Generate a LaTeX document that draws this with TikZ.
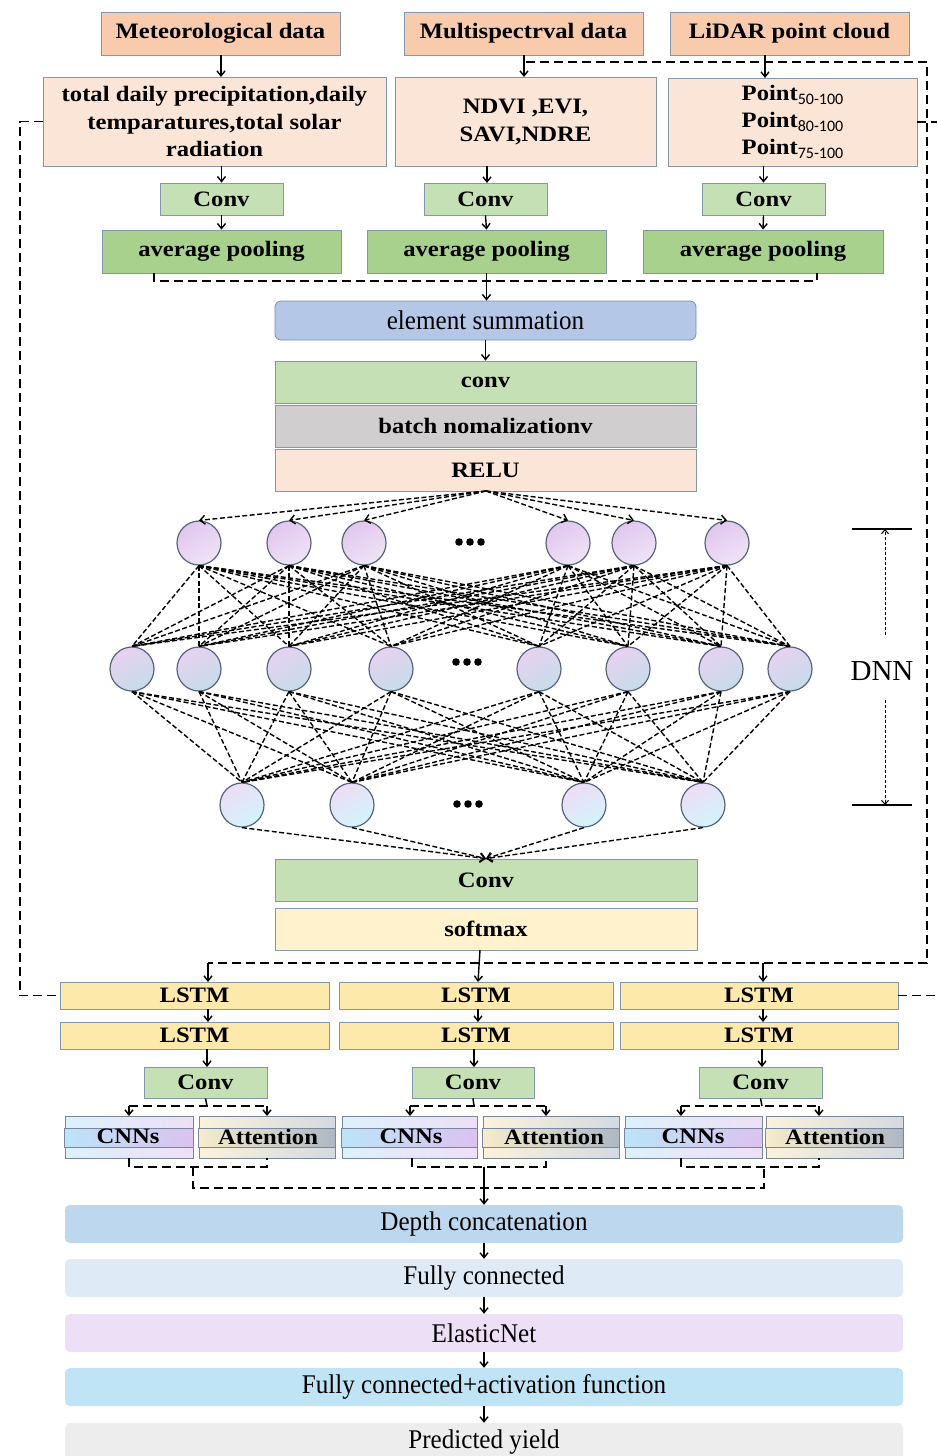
\documentclass[tikz,border=0pt]{standalone}
\usepackage{fontspec}
\setmainfont{Liberation Serif}
\newfontfamily\wfont[FakeStretch=1.12]{Liberation Serif}
\newfontfamily\condfont[FakeStretch=0.93]{Liberation Serif}
\newfontfamily\carl{Carlito}
\usetikzlibrary{arrows.meta,calc}
\definecolor{bcol}{HTML}{8497B0}
\definecolor{hdr}{HTML}{F8CBAD}
\definecolor{lpeach}{HTML}{FBE5D6}
\definecolor{lgreen}{HTML}{C5E0B4}
\definecolor{mgreen}{HTML}{A9D18E}
\definecolor{esum}{HTML}{B4C7E7}
\definecolor{esumb}{HTML}{6E8FC7}
\definecolor{bnorm}{HTML}{D0CECE}
\definecolor{smax}{HTML}{FFF2CC}
\definecolor{lstm}{HTML}{FDE9A9}
\definecolor{dconc}{HTML}{BDD7EE}
\definecolor{fcon}{HTML}{DEEBF7}
\definecolor{enet}{HTML}{EDDFF6}
\definecolor{fact}{HTML}{BEE4F5}
\definecolor{pyld}{HTML}{EDEDED}
\definecolor{nbord}{HTML}{55667C}
\definecolor{pA}{HTML}{E1C6EF}
\definecolor{pB}{HTML}{EEE4F6}
\definecolor{qB}{HTML}{C6DCE8}
\definecolor{rB}{HTML}{D2F4FB}
\definecolor{cnA}{HTML}{DDF1FB}
\definecolor{cnB}{HTML}{EEDFF7}
\definecolor{cnC}{HTML}{BCE4F7}
\definecolor{cnD}{HTML}{DBC2EF}
\definecolor{atA}{HTML}{FBF2DA}
\definecolor{atB}{HTML}{D3DAE1}
\definecolor{atC}{HTML}{F7ECCB}
\definecolor{atD}{HTML}{ADB8C4}
\begin{document}
\begin{tikzpicture}[x=1pt,y=-1pt,
  box/.style={draw=bcol, line width=0.8pt, inner sep=0pt, align=center,
    font=\wfont\bfseries\fontsize{22}{24}\selectfont},
  flat/.style={rounded corners=5pt, inner sep=0pt, align=center,
    minimum width=838pt, minimum height=38pt,
    font=\condfont\fontsize{27}{29}\selectfont},
  arr/.style={-{Straight Barb[length=5pt,width=8pt]}, line width=1.4pt},
  dsh/.style={dash pattern=on 9pt off 5pt, line width=1.5pt},
  dsha/.style={dsh, -{Straight Barb[length=5pt,width=8pt]}},
  nl/.style={dash pattern=on 5pt off 2.5pt, line width=1.4pt},
  nla/.style={nl, -{Straight Barb[length=5pt,width=9pt]}},
  neur/.style={circle, draw=nbord, line width=1.2pt, minimum size=44pt, inner sep=0pt},
  n1/.style={neur, top color=pA, bottom color=pB, shading angle=30},
  n2/.style={neur, top color=pA!80!white, bottom color=qB, shading angle=30},
  n3/.style={neur, top color=pA!60!white, bottom color=rB, shading angle=30},
  sbox/.style={draw=bcol!90!black, line width=0.8pt, minimum height=42pt, inner sep=0pt},
  stxt/.style={font=\wfont\bfseries\fontsize{22}{24}\selectfont, inner sep=0pt},
  sub/.style={}
]
\useasboundingbox (0,0) rectangle (937,1456);
\newcommand{\sbs}[1]{\raisebox{-4pt}{\carl\mdseries\fontsize{16}{16}\selectfont #1}}

% --- top inputs
\node[box, fill=hdr, minimum width=239pt, minimum height=43pt] (md) at (220.5,33.5) {Meteorological data};
\node[box, fill=hdr, minimum width=239pt, minimum height=43pt] (ms) at (523.5,33.5) {Multispectrval data};
\node[box, fill=hdr, minimum width=239pt, minimum height=43pt] (ld) at (789.5,33.5) {LiDAR point cloud};

\node[box, fill=lpeach, minimum width=343pt, minimum height=89pt, font=\wfont\bfseries\fontsize{22}{27.5}\selectfont] (tb1) at (214.5,121.5) {total daily precipitation,daily\\temparatures,total solar\\radiation};
\node[box, fill=lpeach, minimum width=261pt, minimum height=89pt, font=\wfont\bfseries\fontsize{22}{28}\selectfont] (tb2) at (525.5,121.5) {NDVI ,EVI,\\SAVI,NDRE};
\node[box, fill=lpeach, minimum width=249pt, minimum height=88pt, font=\wfont\bfseries\fontsize{22}{27}\selectfont] (tb3) at (792.5,122) {Point\sbs{50-100}\\Point\sbs{80-100}\\Point\sbs{75-100}};

\node[box, fill=lgreen, minimum width=123pt, minimum height=32pt] (cv1) at (221.5,199) {Conv};
\node[box, fill=lgreen, minimum width=123pt, minimum height=32pt] (cv2) at (485.5,199) {Conv};
\node[box, fill=lgreen, minimum width=123pt, minimum height=32pt] (cv3) at (763.5,199) {Conv};

\node[box, fill=mgreen, minimum width=239pt, minimum height=43pt] (ap1) at (221.5,251.5) {average pooling};
\node[box, fill=mgreen, minimum width=239pt, minimum height=43pt] (ap2) at (486.5,251.5) {average pooling};
\node[box, fill=mgreen, minimum width=240pt, minimum height=43pt] (ap3) at (763,251.5) {average pooling};

\draw[arr] (md.south -| 221,0) -- (221,77);
\draw[arr] (524,55) -- (524,77);
\draw[arr] (765,55) -- (765,78);
\draw[arr] (cv1.north |- tb1.south) -- (cv1.north);
\draw[arr] (487,166) -- (487,183);
\draw[arr] (cv3.north |- tb3.south) -- (cv3.north);
\draw[arr] (cv1.south) -- (ap1.north);
\draw[arr] (cv2.south) -- (ap2.north);
\draw[arr] (cv3.south) -- (ap3.north);

% --- fusion
\node[box, fill=esum, draw=esumb, rounded corners=6pt, minimum width=421pt, minimum height=39pt, font=\condfont\fontsize{27}{29}\selectfont] (es) at (485.5,320.5) {element summation};
\node[box, fill=lgreen, minimum width=421pt, minimum height=42pt] (cn) at (485.5,382) {conv};
\node[box, fill=bnorm, minimum width=421pt, minimum height=42pt] (bn) at (485.5,426) {batch nomalizationv};
\node[box, fill=lpeach, minimum width=421pt, minimum height=42pt] (rl) at (485.5,470) {RELU};

\draw[dsh] (154,273) -- (154,281) -- (817,281) -- (817,273);
\draw[arr] (ap2.south) -- (ap2.south |- es.north);
\draw[arr] (es.south) -- (cn.north);

% --- DNN
\foreach \i/\x in {1/199,2/289,3/364,4/568,5/634,6/727} \node[n1] (a\i) at (\x,543) {};
\foreach \i/\x in {1/132,2/199,3/289,4/391,5/539,6/628,7/721,8/790} \node[n2] (b\i) at (\x,669) {};
\foreach \i/\x in {1/242,2/352,3/584,4/703} \node[n3] (c\i) at (\x,805) {};
\foreach \y/\x in {542/470,662/467,804/468} {
  \fill (\x-11,\y) circle (3.8pt); \fill (\x,\y) circle (3.8pt); \fill (\x+11,\y) circle (3.8pt);
}
\coordinate (rlb) at (486,491);
\foreach \i in {1,...,6} \draw[nla] (rlb) -- (a\i.north);
\foreach \i in {1,...,6} \foreach \j in {1,...,8} \draw[nl] (a\i.south) -- (b\j.north);
\foreach \i in {1,...,8} \foreach \j in {1,...,4} \draw[nl] (b\i.south) -- (c\j.north);

\node[box, fill=lgreen, minimum width=422pt, minimum height=42pt] (cb) at (486,880) {Conv};
\node[box, fill=smax, minimum width=422pt, minimum height=42pt] (sm) at (486,929) {softmax};
\foreach \i in {1,...,4} \draw[nla] (c\i.south) -- (cb.north);

\node[font=\fontsize{29}{31}\selectfont, inner sep=1pt] (dnn) at (882,671) {DNN};
\draw[line width=1.2pt] (852,529) -- (912,529);
\draw[line width=1.2pt] (852,805) -- (912,805);
\draw[dash pattern=on 3pt off 2pt, line width=1pt, -{Straight Barb[length=4pt,width=7pt]}] (885,635) -- (885,529);
\draw[dash pattern=on 3pt off 2pt, line width=1pt, -{Straight Barb[length=4pt,width=7pt]}] (885,700) -- (885,805);

% --- LSTM branches
\node[box, fill=lstm, minimum width=269pt, minimum height=27pt] (L11) at (194.5,995.5) {LSTM};
\node[box, fill=lstm, minimum width=274pt, minimum height=27pt] (L12) at (476,995.5) {LSTM};
\node[box, fill=lstm, minimum width=278pt, minimum height=27pt] (L13) at (759,995.5) {LSTM};
\node[box, fill=lstm, minimum width=269pt, minimum height=27pt] (L21) at (194.5,1035.5) {LSTM};
\node[box, fill=lstm, minimum width=274pt, minimum height=27pt] (L22) at (476,1035.5) {LSTM};
\node[box, fill=lstm, minimum width=278pt, minimum height=27pt] (L23) at (759,1035.5) {LSTM};
\node[box, fill=lgreen, minimum width=123pt, minimum height=31pt] (cs1) at (205.5,1082.5) {Conv};
\node[box, fill=lgreen, minimum width=122pt, minimum height=31pt] (cs2) at (473,1082.5) {Conv};
\node[box, fill=lgreen, minimum width=123pt, minimum height=31pt] (cs3) at (760.5,1082.5) {Conv};

\draw[arr] (208,963) -- (208,982);
\draw[arr] (480,950) -- (478,982);
\draw[arr] (763,963) -- (763,982);
\draw[arr] (208,1009) -- (208,1022);
\draw[arr] (478,1009) -- (478,1022);
\draw[arr] (763,1009) -- (763,1022);
\draw[arr] (207,1049) -- (207,1067);
\draw[arr] (474,1049) -- (474,1067);
\draw[arr] (762,1049) -- (762,1067);

% big dashed loop
\draw[dsh] (tb1.west) -- (20,121.5) -- (20,995.5) -- (L11.west);
\draw[dsh] (526,62) -- (927,62) -- (927,963) -- (208,963);
\draw[dsh] (tb3.east) -- (937,122);
\draw[dsh] (L13.east) -- (937,995.5);

% CNNs / Attention boxes
\newcommand{\cnnbox}[4]{%
  \node[sbox, minimum width=#3pt, left color=cnA, right color=cnB] (#1) at (#2,1137) {};
  \path[draw=bcol!90!black, line width=0.8pt, left color=cnC, right color=cnD] ($(#1.west)+(0,-9)$) rectangle ($(#1.east)+(0,10)$);
  \node[stxt] at (#4,1136) {CNNs};}
\newcommand{\attbox}[4]{%
  \node[sbox, minimum width=#3pt, left color=atA, right color=atB] (#1) at (#2,1137) {};
  \path[draw=bcol!90!black, line width=0.8pt, left color=atC, right color=atD] ($(#1.west)+(0,-9)$) rectangle ($(#1.east)+(0,10)$);
  \node[stxt] at (#4,1137) {Attention};}
\cnnbox{k1}{129}{128}{128}
\attbox{t1}{267}{136}{268}
\cnnbox{k2}{409.5}{135}{411}
\attbox{t2}{551}{136}{554}
\cnnbox{k3}{693.5}{137}{693}
\attbox{t3}{834.5}{137}{835}

\draw[dsh] (cs1.south) -- (207,1106);
\draw[dsha] (129,1106) -- (129,1116);
\draw[dsha] (267,1106) -- (267,1116);
\draw[dsh] (129,1106) -- (267,1106);
\draw[dsh] (cs2.south) -- (474,1106);
\draw[dsha] (410,1106) -- (410,1116);
\draw[dsha] (546,1106) -- (546,1116);
\draw[dsh] (410,1106) -- (546,1106);
\draw[dsh] (cs3.south) -- (762,1106);
\draw[dsha] (681,1106) -- (681,1116);
\draw[dsha] (819,1106) -- (819,1116);
\draw[dsh] (681,1106) -- (819,1106);

\draw[dsh] (129,1158) -- (129,1167) -- (267,1167) -- (267,1158);
\draw[dsh] (412,1158) -- (412,1167) -- (546,1167) -- (546,1158);
\draw[dsh] (681,1158) -- (681,1167) -- (819,1167) -- (819,1158);
\draw[dsh] (193,1167) -- (193,1188) -- (764,1188) -- (764,1167);

% --- output head
\node[flat, fill=dconc] (dc) at (484,1224) {Depth concatenation};
\node[flat, fill=fcon] (fc) at (484,1278) {Fully connected};
\node[flat, fill=enet] (en) at (484,1333) {ElasticNet};
\node[flat, fill=fact] (fa) at (484,1387) {Fully connected+activation function};
\node[flat, fill=pyld] (py) at (484,1442) {Predicted yield};
\draw[line width=1.4pt] (484,1167) -- (484,1190);
\draw[arr] (484,1190) -- (dc.north);
\draw[arr] (dc.south) -- (fc.north);
\draw[arr] (fc.south) -- (en.north);
\draw[arr] (en.south) -- (fa.north);
\draw[arr] (fa.south) -- (py.north);
\end{tikzpicture}
\end{document}
